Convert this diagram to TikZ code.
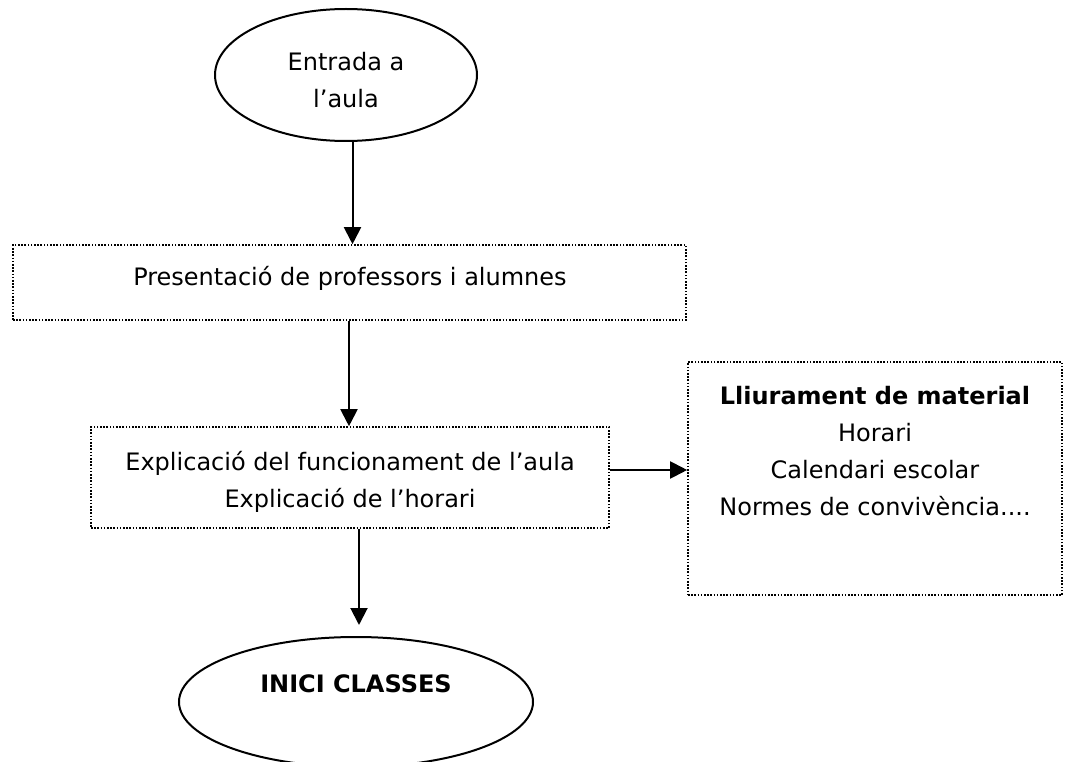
\documentclass[tikz,border=0pt]{standalone}
\usepackage{fontspec}
\setmainfont{DejaVu Sans}
\usetikzlibrary{shapes.geometric,arrows.meta}
\tikzset{
  dotbox/.style={draw=black, line width=1.6pt, dash pattern=on 1.6pt off 1.6pt, rectangle, inner sep=0pt},
  oval/.style={draw=black, line width=2pt, ellipse, inner sep=0pt},
  txt/.style={align=center, font=\fontsize{24}{37}\selectfont, inner sep=0pt},
  conn/.style={line width=2pt, -{Triangle[length=17pt,width=17pt]}}
}
\begin{document}
\begin{tikzpicture}[x=1pt,y=-1pt]
\useasboundingbox (0,0) rectangle (1072,762);
% shapes
\node[oval, minimum width=262pt, minimum height=132pt] (e1) at (346,75) {};
\node[txt] (e1t) at (346,80) {Entrada a\\l’aula};
\node[dotbox, minimum width=673pt, minimum height=75pt] (b1) at (349.5,282.5) {};
\node[txt] (b1t) at (350,278) {Presentació de professors i alumnes};
\node[dotbox, minimum width=518pt, minimum height=101pt] (b2) at (350,477.5) {};
\node[txt] (b2t) at (350,482) {Explicació del funcionament de l’aula\\Explicació de l’horari};
\node[dotbox, minimum width=374pt, minimum height=233pt] (b3) at (875,478.5) {};
\node[txt] (b3t) at (875,451) {\textbf{Lliurament de material}\\Horari\\Calendari escolar\\Normes de convivència....};
\node[oval, minimum width=354pt, minimum height=130pt] (e2) at (356,702) {};
\node[txt] (e2t) at (356,684) {\textbf{INICI CLASSES}};
% connectors
\draw[conn] (e1.south -| b1.north) ++(3,0) coordinate (a1) -- (a1 |- b1.north);
\draw[conn] ([xshift=-0.5pt]b1.south) -- ([xshift=-1pt]b2.north);
\draw[conn] (b2.east |- 0,470) coordinate (a3) -- (a3 -| b3.west);
\draw[conn] ([xshift=9pt]b2.south) -- ([xshift=9pt,yshift=11pt]b2.south |- e2.north);
\end{tikzpicture}
\end{document}
